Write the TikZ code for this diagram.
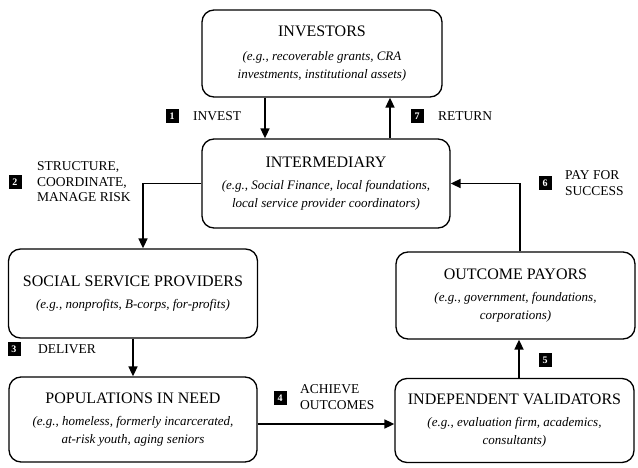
\documentclass[tikz,border=0pt]{standalone}
\usepackage{fontspec}
\setmainfont{Liberation Serif}
\usetikzlibrary{arrows.meta,calc}
\newcommand{\ttlf}{\fontsize{16}{18}\selectfont\upshape}
\newcommand{\subff}{\fontsize{13}{18}\selectfont\itshape}
\tikzset{
  box/.style={draw=black, line width=1.3pt, rounded corners=12pt, align=center,
    inner sep=0pt, font=\subff},
  arr/.style={line width=1.7pt, -{Triangle[length=10pt,width=9pt]}},
  numbox/.style={fill=black, text=white, minimum width=13pt, minimum height=14pt,
    inner sep=0pt, font=\fontsize{10}{10}\selectfont\bfseries},
  lbl/.style={anchor=west, align=left, inner sep=0pt, font=\fontsize{13.5}{15.5}\selectfont}
}
\begin{document}
\begin{tikzpicture}[x=1pt,y=-1pt]
\useasboundingbox (0,0) rectangle (638,468);
% boxes
\node[box, minimum width=240pt, minimum height=87pt] (investors) at (322,53.5)
  {{\ttlf INVESTORS}\\[6pt](e.g., recoverable grants, CRA\\investments, institutional assets)};
\node[box, minimum width=248pt, minimum height=89pt] (intermediary) at (326,183.5)
  {{\ttlf INTERMEDIARY}\\[4pt](e.g., Social Finance, local foundations,\\local service provider coordinators)};
\node[box, minimum width=249pt, minimum height=89pt] (ssp) at (133,293.5)
  {{\ttlf SOCIAL SERVICE PROVIDERS}\\[4pt](e.g., nonprofits, B-corps, for-profits)};
\node[box, minimum width=248pt, minimum height=85pt] (populations) at (133,419.5)
  {{\ttlf POPULATIONS IN NEED}\\[4pt](e.g., homeless, formerly incarcerated,\\at-risk youth, aging seniors};
\node[box, minimum width=239pt, minimum height=84pt] (validators) at (514.5,420.5)
  {{\ttlf INDEPENDENT VALIDATORS}\\[4pt](e.g., evaluation firm, academics,\\consultants)};
\node[box, minimum width=239pt, minimum height=87pt] (payors) at (515.5,295.5)
  {{\ttlf OUTCOME PAYORS}\\[4pt](e.g., government, foundations,\\corporations)};
% helper coordinates
\coordinate (c1) at (265,0);
\coordinate (c7) at (390,0);
\coordinate (c2) at (143,0);
\coordinate (c4) at (0,424);
\coordinate (c5) at (519,0);
\coordinate (c6) at (520,0);
% connectors
\draw[arr] (c1 |- investors.south) -- (c1 |- intermediary.north);
\draw[arr] (c7 |- intermediary.north) -- (c7 |- investors.south);
\draw[arr] (intermediary.west) -| (c2 |- ssp.north);
\draw[arr] (ssp.south) -- (populations.north);
\draw[arr] (populations.east |- c4) -- (validators.west |- c4);
\draw[arr] (c5 |- validators.north) -- (c5 |- payors.south);
\draw[arr] (c6 |- payors.north) |- (intermediary.east);
% labels
\node[numbox] (n1) at (172,116) {1};
\node[lbl] (l1) at (193,116) {INVEST};
\node[numbox] (n7) at (417,116) {7};
\node[lbl] (l7) at (438,116) {RETURN};
\node[numbox] (n2) at (15,182) {2};
\node[lbl] (l2) at (37,182) {STRUCTURE,\\COORDINATE,\\MANAGE RISK};
\node[numbox] (n3) at (14,349) {3};
\node[lbl] (l3) at (38,349) {DELIVER};
\node[numbox] (n4) at (280,398) {4};
\node[lbl] (l4) at (300,397) {ACHIEVE\\OUTCOMES};
\node[numbox] (n5) at (545,360) {5};
\node[numbox] (n6) at (545,183) {6};
\node[lbl] (l6) at (565,183) {PAY FOR\\SUCCESS};
\end{tikzpicture}
\end{document}
